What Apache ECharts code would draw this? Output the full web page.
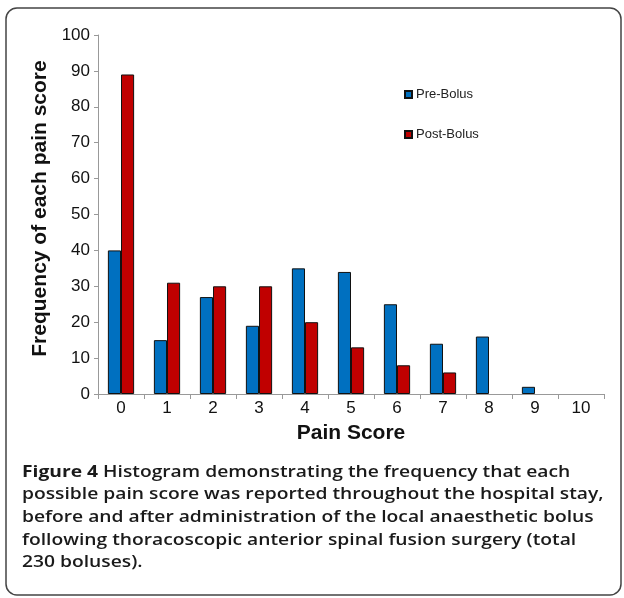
<!DOCTYPE html>
<html>
<head>
<meta charset="utf-8">
<script src="https://cdn.jsdelivr.net/npm/echarts@6/dist/echarts.min.js"></script>
<style>html,body{margin:0;padding:0;background:#fff;}#c{width:624px;height:598px;}</style>
</head>
<body>
<div id="c"></div>
<script>
var categories = ['0','1','2','3','4','5','6','7','8','9','10'];
var preBolus  = [40, 15, 27, 19, 35, 34, 25, 14, 16, 2, 0];
var postBolus = [89, 31, 30, 30, 20, 13, 8, 6, 0, 0, 0];
var yTicks = [0, 10, 20, 30, 40, 50, 60, 70, 80, 90, 100];
var captionLines = [
  ['Figure 4', ' Histogram demonstrating the frequency that each'],
  ['', 'possible pain score was reported throughout the hospital stay,'],
  ['', 'before and after administration of the local anaesthetic bolus'],
  ['', 'following thoracoscopic anterior spinal fusion surgery (total'],
  ['', '230 boluses).']
];

var chart = echarts.init(document.getElementById('c'), null, {renderer: 'canvas'});
var font = 'Liberation Sans, Arial, sans-serif';
var capText = captionLines.map(function (l) {
  return (l[0] ? '{b|' + l[0] + '}' : '') + '{r|' + l[1] + '}';
}).join('\n');

function barData(values) {
  return values.map(function (v) {
    return v === 0 ? {value: v, itemStyle: {borderWidth: 0, opacity: 0}} : v;
  });
}

var option = {
  animation: false,
  backgroundColor: '#fff',
  grid: {left: 98, right: 20, top: 35, bottom: 204, containLabel: false},
  legend: {
    orient: 'vertical',
    left: 399,
    top: 83,
    itemWidth: 7,
    itemHeight: 7,
    itemGap: 27,
    icon: 'rect',
    textStyle: {fontFamily: font, fontSize: 13, color: '#222', padding: [0, 0, 0, -1]},
    data: ['Pre-Bolus', 'Post-Bolus']
  },
  xAxis: {
    type: 'category',
    data: categories,
    name: 'Pain Score',
    nameLocation: 'middle',
    nameGap: 29,
    nameTextStyle: {fontFamily: font, fontSize: 21, fontWeight: 'bold', color: '#111'},
    axisLine: {lineStyle: {color: '#999', width: 1}},
    axisTick: {show: true, length: 5, lineStyle: {color: '#999'}},
    axisLabel: {fontFamily: font, fontSize: 17, color: '#111', margin: 6}
  },
  yAxis: {
    type: 'value',
    min: 0,
    max: 100,
    interval: 10,
    name: 'Frequency of each pain score',
    nameLocation: 'middle',
    nameGap: 41,
    nameTextStyle: {fontFamily: font, fontSize: 21, fontWeight: 'bold', color: '#111', padding: [0, 0, 0, 12]},
    axisLine: {show: true, lineStyle: {color: '#999', width: 1}},
    axisTick: {show: true, length: 4, lineStyle: {color: '#999'}},
    splitLine: {show: false},
    axisLabel: {fontFamily: font, fontSize: 17, color: '#111', margin: 8,
      formatter: function (v) { return yTicks.indexOf(v) >= 0 ? String(v) : ''; }}
  },
  series: [
    {
      name: 'Pre-Bolus', type: 'bar', data: barData(preBolus),
      barGap: '0%', barCategoryGap: '43%',
      itemStyle: {color: '#0070C0', borderColor: '#111', borderWidth: 1}
    },
    {
      name: 'Post-Bolus', type: 'bar', data: barData(postBolus),
      barGap: '0%', barCategoryGap: '43%',
      itemStyle: {color: '#C00000', borderColor: '#111', borderWidth: 1}
    }
  ],
  graphic: [
    {
      type: 'rect', silent: true, z: -1,
      shape: {x: 6, y: 8, width: 615, height: 587, r: 11},
      style: {fill: 'none', stroke: '#444', lineWidth: 1.5}
    },
    {
      type: 'text', x: 22, y: 461, scaleX: 1.203, scaleY: 1,
      style: {
        text: capText,
        fill: '#1a1a1a',
        verticalAlign: 'top',
        rich: {
          b: {fontFamily: 'Open Sans, sans-serif', fontSize: 16, fontWeight: 'bold', lineHeight: 22.6, fill: '#1a1a1a'},
          r: {fontFamily: 'Open Sans, sans-serif', fontSize: 16, fontWeight: 600, lineHeight: 22.6, fill: '#1a1a1a'}
        }
      }
    }
  ]
};
chart.setOption(option);
</script>
</body>
</html>
